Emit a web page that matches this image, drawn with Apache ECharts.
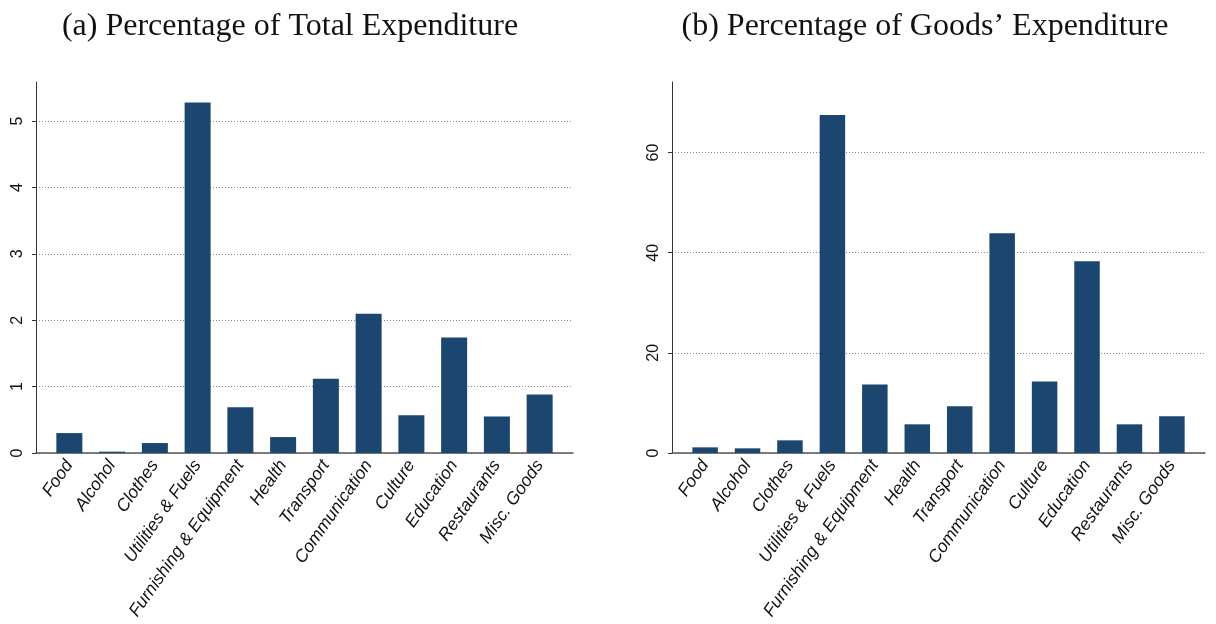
<!DOCTYPE html>
<html>
<head>
<meta charset="utf-8">
<script src="https://cdn.jsdelivr.net/npm/echarts@6/dist/echarts.min.js"></script>
<style>
html,body{margin:0;padding:0;background:#fff;}
#chart{width:1216px;height:624px;}
</style>
</head>
<body>
<div id="chart"></div>
<script>
const categories = ['Food','Alcohol','Clothes','Utilities & Fuels','Furnishing & Equipment','Health','Transport','Communication','Culture','Education','Restaurants','Misc. Goods'];
const totalShare = [0.30, 0.02, 0.15, 5.28, 0.69, 0.24, 1.12, 2.10, 0.57, 1.74, 0.55, 0.88];
const goodsShare = [1.13, 0.93, 2.53, 67.5, 13.7, 5.73, 9.32, 43.9, 14.3, 38.3, 5.73, 7.33];
const leftTicks = [0, 1, 2, 3, 4, 5];
const rightTicks = [0, 20, 40, 60];
const titles = ['(a) Percentage of Total Expenditure', "(b) Percentage of Goods\u2019 Expenditure"];

const barColor = '#1b4670';
const idx = categories.map((c, i) => i);

function xAxis(gridIndex) {
  return {
    type: 'value', gridIndex, min: -0.78, max: 11.78,
    axisLine: { show: true, onZero: false, lineStyle: { color: '#555', width: 1.5 } },
    axisTick: { show: false },
    splitLine: { show: false },
    axisLabel: {
      customValues: idx, rotate: 55, interval: 0, margin: 9,
      fontFamily: 'Liberation Sans', fontStyle: 'italic', fontSize: 17.5, color: '#111',
      formatter: v => categories[Math.round(v)]
    }
  };
}
function yAxis(gridIndex, max, ticks) {
  return {
    type: 'value', gridIndex, min: 0, max,
    axisLine: { show: true, onZero: false, lineStyle: { color: '#333', width: 1 } },
    axisTick: { show: true, length: 4, customValues: ticks, lineStyle: { color: '#333' } },
    splitLine: { show: true, lineStyle: { type: [1, 2], color: '#888', width: 1 } },
    axisLabel: {
      customValues: ticks, rotate: 90, margin: 10,
      fontFamily: 'Liberation Sans', fontSize: 16, color: '#111'
    }
  };
}

const chart = echarts.init(document.getElementById('chart'));
chart.setOption({
  animation: false,
  backgroundColor: '#fff',
  title: [
    { text: titles[0], left: 285, top: 6, textAlign: 'center',
      textStyle: { fontFamily: 'Liberation Serif', fontWeight: 'normal', fontSize: 32, color: '#111' } },
    { text: titles[1], left: 920, top: 6, textAlign: 'center',
      textStyle: { fontFamily: 'Liberation Serif', fontWeight: 'normal', fontSize: 32, color: '#111' } }
  ],
  grid: [
    { left: 36, width: 537, top: 82, bottom: 171 },
    { left: 672, width: 533, top: 82, bottom: 171 }
  ],
  xAxis: [xAxis(0), xAxis(1)],
  yAxis: [yAxis(0, 5.59, leftTicks), yAxis(1, 74.1, rightTicks)],
  series: [
    { type: 'bar', xAxisIndex: 0, yAxisIndex: 0, barWidth: 26,
      itemStyle: { color: barColor },
      data: totalShare.map((v, i) => [i, v]) },
    { type: 'bar', xAxisIndex: 1, yAxisIndex: 1, barWidth: 25.5,
      itemStyle: { color: barColor },
      data: goodsShare.map((v, i) => [i, v]) }
  ]
});
</script>
</body>
</html>
